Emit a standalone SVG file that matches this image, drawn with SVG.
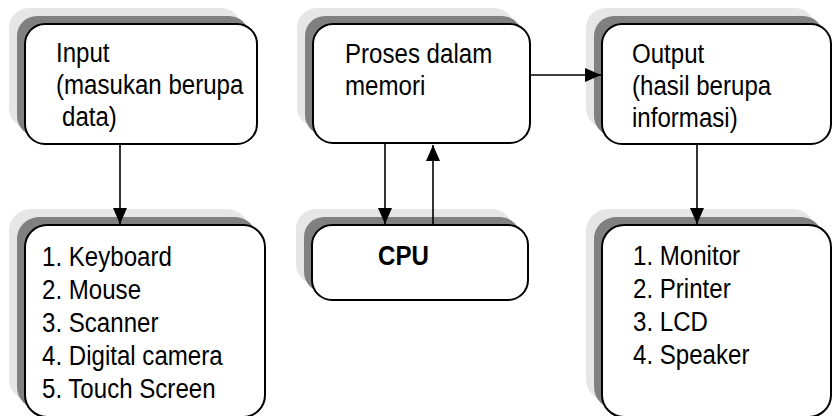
<svg xmlns="http://www.w3.org/2000/svg" width="832" height="416" viewBox="0 0 832 416">
  <style>
    .sh1 { fill: #e6e6e6; }
    .sh2 { fill: #808080; }
    .box { fill: #ffffff; stroke: #000000; stroke-width: 2; }
    .t { font-family: "Liberation Sans", Arial, sans-serif; font-size: 28px; fill: #000000; }
    .b { font-weight: bold; }
    .edge { stroke: #000000; stroke-width: 1.6; fill: none; marker-end: url(#arrow); }
  </style>
  <defs>
    <marker id="arrow" markerUnits="userSpaceOnUse" markerWidth="16" markerHeight="16" viewBox="0 0 16 16" refX="16" refY="8" orient="auto">
      <path d="M0,1 L16,8 L0,15 Z" fill="#000000"/>
    </marker>
  </defs>
  <rect width="832" height="416" fill="#ffffff"/>

  <!-- Input -->
  <g id="input">
    <rect class="sh1" x="9" y="8" width="232" height="120" rx="20"/>
    <rect class="sh2" x="17" y="16" width="232" height="120" rx="20"/>
    <rect class="box" x="25" y="24" width="232" height="120" rx="20"/>
    <g class="t">
      <text transform="translate(56 62) scale(0.86 1)">Input</text>
      <text transform="translate(56 94) scale(0.86 1)">(masukan berupa</text>
      <text transform="translate(62 126) scale(0.86 1)">data)</text>
    </g>
  </g>

  <!-- Proses dalam memori -->
  <g id="proses">
    <rect class="sh1" x="297" y="8" width="217" height="119" rx="20"/>
    <rect class="sh2" x="305" y="16" width="217" height="119" rx="20"/>
    <rect class="box" x="313" y="24" width="217" height="119" rx="20"/>
    <g class="t">
      <text transform="translate(345 63) scale(0.86 1)">Proses dalam</text>
      <text transform="translate(345 95) scale(0.86 1)">memori</text>
    </g>
  </g>

  <!-- Output -->
  <g id="output">
    <rect class="sh1" x="586" y="8" width="229" height="120" rx="20"/>
    <rect class="sh2" x="594" y="16" width="229" height="120" rx="20"/>
    <rect class="box" x="602" y="24" width="229" height="120" rx="20"/>
    <g class="t">
      <text transform="translate(632 63) scale(0.86 1)">Output</text>
      <text transform="translate(632 95) scale(0.86 1)">(hasil berupa</text>
      <text transform="translate(632 127) scale(0.86 1)">informasi)</text>
    </g>
  </g>

  <!-- Input devices -->
  <g id="input-devices">
    <rect class="sh1" x="9" y="209" width="240" height="192" rx="22"/>
    <rect class="sh2" x="17" y="217" width="240" height="192" rx="22"/>
    <rect class="box" x="25" y="225" width="240" height="192" rx="22"/>
    <g class="t">
      <text transform="translate(42 266) scale(0.86 1)">1. Keyboard</text>
      <text transform="translate(42 299) scale(0.86 1)">2. Mouse</text>
      <text transform="translate(42 332) scale(0.86 1)">3. Scanner</text>
      <text transform="translate(42 365) scale(0.86 1)">4. Digital camera</text>
      <text transform="translate(42 398) scale(0.86 1)">5. Touch Screen</text>
    </g>
  </g>

  <!-- CPU -->
  <g id="cpu">
    <rect class="sh1" x="296" y="209" width="216" height="75" rx="20"/>
    <rect class="sh2" x="304" y="217" width="216" height="75" rx="20"/>
    <rect class="box" x="312" y="225" width="216" height="75" rx="20"/>
    <text class="t b" transform="translate(378 265) scale(0.86 1)">CPU</text>
  </g>

  <!-- Output devices -->
  <g id="output-devices">
    <rect class="sh1" x="586" y="209" width="229" height="192" rx="22"/>
    <rect class="sh2" x="594" y="217" width="229" height="192" rx="22"/>
    <rect class="box" x="602" y="225" width="229" height="192" rx="22"/>
    <g class="t">
      <text transform="translate(633 265) scale(0.86 1)">1. Monitor</text>
      <text transform="translate(633 298) scale(0.86 1)">2. Printer</text>
      <text transform="translate(633 331) scale(0.86 1)">3. LCD</text>
      <text transform="translate(633 364) scale(0.86 1)">4. Speaker</text>
    </g>
  </g>

  <!-- Connectors -->
  <g id="connectors">
    <line class="edge" x1="120" y1="144" x2="120" y2="224"/>
    <line class="edge" x1="385" y1="143" x2="385" y2="224"/>
    <line class="edge" x1="433" y1="225" x2="433" y2="145"/>
    <line class="edge" x1="530" y1="75" x2="601" y2="75"/>
    <line class="edge" x1="697" y1="144" x2="697" y2="224"/>
  </g>
</svg>
